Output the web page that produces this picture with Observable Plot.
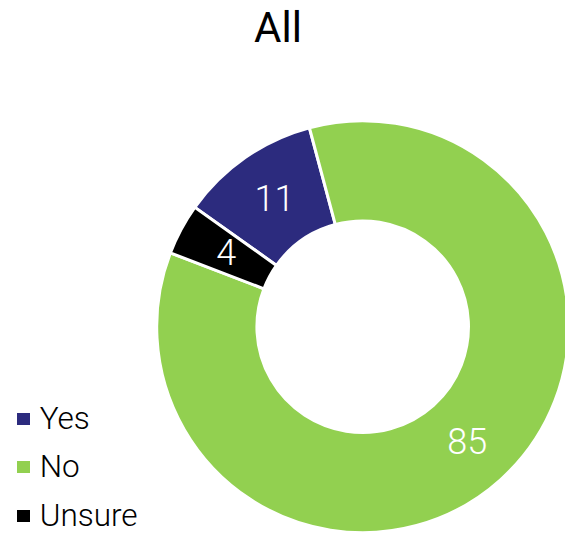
<!DOCTYPE html>
<html>
<head>
<meta charset="utf-8">
<script src="https://cdn.jsdelivr.net/npm/d3@7"></script>
<script src="https://cdn.jsdelivr.net/npm/@observablehq/plot@0.6"></script>
<style>
  html, body { margin: 0; padding: 0; background: #fff; }
  #wrap { position: relative; width: 565px; height: 533px; overflow: hidden; font-family: Roboto, "Noto Sans", sans-serif; }
  #wrap svg { position: absolute; left: 0; top: 0; }
  #title { position: absolute; top: 7px; left: 278px; transform: translateX(-50%); font-size: 42px; line-height: 42px; color: #000; white-space: nowrap; }
  .lg { position: absolute; left: 17px; height: 36px; line-height: 36px; display: flex; align-items: center; font-size: 31.5px; font-weight: 300; color: #000; white-space: nowrap; }
  .lg .sw { width: 12.7px; height: 12.7px; margin-right: 10px; flex: none; }
</style>
</head>
<body>
<div id="wrap"></div>
<script>
// ---- data ----
const title = "All";
const categories = ["Yes", "No", "Unsure"];
const values = [11, 85, 4];
const colors = ["#2C2B7E", "#92D050", "#000000"];

// ---- layout ----
const W = 565, H = 533;
const cx = 362.7, cy = 326.7, R = 205;
const innerFrac = 0.516;
const startDeg = -54.6;

const start = startDeg * Math.PI / 180;
const pieData = d3.pie().sort(null).startAngle(start).endAngle(start + 2 * Math.PI)(values);
const unitArc = d3.arc().innerRadius(innerFrac).outerRadius(1);
const slices = pieData.map((p, i) => ({
  category: categories[i],
  value: values[i],
  color: colors[i],
  startAngle: p.startAngle,
  endAngle: p.endAngle,
  cx: unitArc.centroid(p)[0],
  cy: -unitArc.centroid(p)[1]
}));

function donut(index, scales) {
  const x = scales.x, y = scales.y;
  const ox = x(0), oy = y(0), r = x(1) - x(0);
  const arc = d3.arc().innerRadius(r * innerFrac).outerRadius(r + 1);
  const g = d3.create("svg:g").attr("transform", `translate(${ox},${oy})`);
  g.selectAll("path")
    .data(slices)
    .join("path")
    .attr("d", d => arc(d))
    .attr("fill", d => d.color)
    .attr("stroke", "white")
    .attr("stroke-width", 3)
    .attr("stroke-linejoin", "miter");
  return g.node();
}

const chart = Plot.plot({
  width: W,
  height: H,
  margin: 0,
  x: { domain: [-1, 1], range: [cx - R, cx + R], axis: null },
  y: { domain: [-1, 1], range: [cy + R, cy - R], axis: null },
  style: { background: "white", fontFamily: "Roboto, 'Noto Sans', sans-serif" },
  marks: [
    donut,
    Plot.text(slices, {
      x: "cx",
      y: "cy",
      text: d => String(d.value),
      fill: "white",
      fontSize: 36,
      fontWeight: 300,
      lineAnchor: "middle"
    })
  ]
});

const wrap = document.getElementById("wrap");
wrap.appendChild(chart);

const t = document.createElement("div");
t.id = "title";
t.textContent = title;
wrap.appendChild(t);

const rowTops = [401, 449, 498];
categories.forEach((c, i) => {
  const row = document.createElement("div");
  row.className = "lg";
  row.style.top = rowTops[i] + "px";
  const sw = document.createElement("span");
  sw.className = "sw";
  sw.style.background = colors[i];
  const tx = document.createElement("span");
  tx.textContent = c;
  row.appendChild(sw);
  row.appendChild(tx);
  wrap.appendChild(row);
});
</script>
</body>
</html>
